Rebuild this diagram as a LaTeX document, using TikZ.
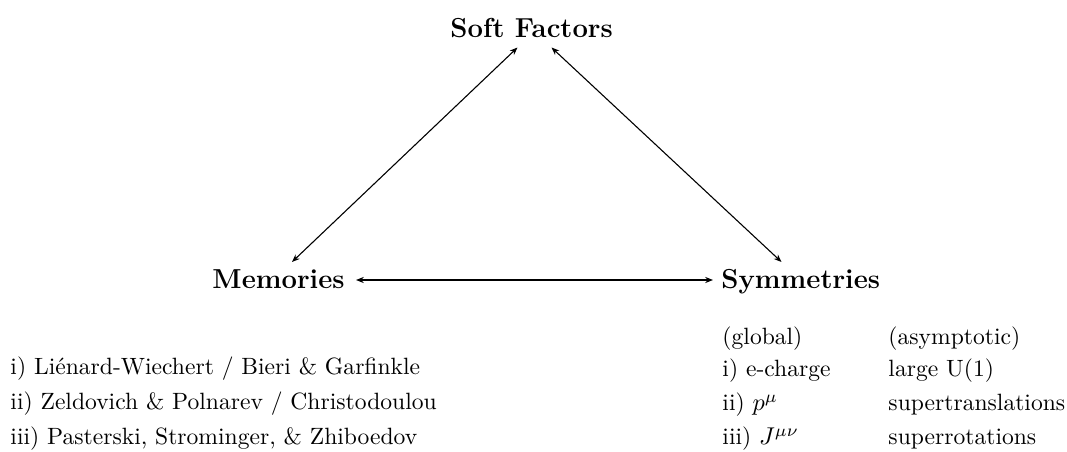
\documentclass[tikz,border=0pt]{standalone}
\usetikzlibrary{arrows.meta}
\begin{document}
\begin{tikzpicture}[x=0.4115pt,y=-0.4115pt,
  head/.style={anchor=base west,inner sep=0pt,font=\fontsize{11.3}{13.5}\selectfont\bfseries},
  txt/.style={anchor=base west,inner sep=0pt,font=\fontsize{9.7}{11.7}\selectfont},
  link/.style={line width=0.45pt,{Stealth[length=3.2pt,width=2.5pt]}-{Stealth[length=3.2pt,width=2.5pt]}}]
\useasboundingbox (0,0) rectangle (1067,452);
\node[head] (sf) at (450,37.5) {Soft Factors};
\node[head] (mem) at (212,289) {Memories};
\node[head] (sym) at (721,289) {Symmetries};
% connector end points
\coordinate (sfL) at (517.5,47.5);
\coordinate (sfR) at (551.5,47.5);
\coordinate (memT) at (292,262);
\coordinate (symT) at (781.5,262);
\coordinate (memE) at (356,280);
\coordinate (symW) at (713,280);
\draw[link] (memT) -- (sfL);
\draw[link] (sfR) -- (symT);
\draw[link] (memE) -- (symW);
% memories list
\node[txt] (m1) at (10,375) {i) Li\'enard-Wiechert / Bieri \& Garfinkle};
\node[txt] (m2) at (10,410) {ii) Zeldovich \& Polnarev / Christodoulou};
\node[txt] (m3) at (10,445) {iii) Pasterski, Strominger, \& Zhiboedov};
% symmetries table
\node[txt] (g0) at (722,345) {(global)};
\node[txt] (g1) at (722,377) {i) e-charge};
\node[txt] (g2) at (722,411) {ii) $p^\mu$};
\node[txt] (g3) at (722,445) {iii) $J^{\mu\nu}$};
\node[txt] (a0) at (888,345) {(asymptotic)};
\node[txt] (a1) at (888,377) {large U(1)};
\node[txt] (a2) at (888,411) {supertranslations};
\node[txt] (a3) at (888,445) {superrotations};
\end{tikzpicture}
\end{document}
